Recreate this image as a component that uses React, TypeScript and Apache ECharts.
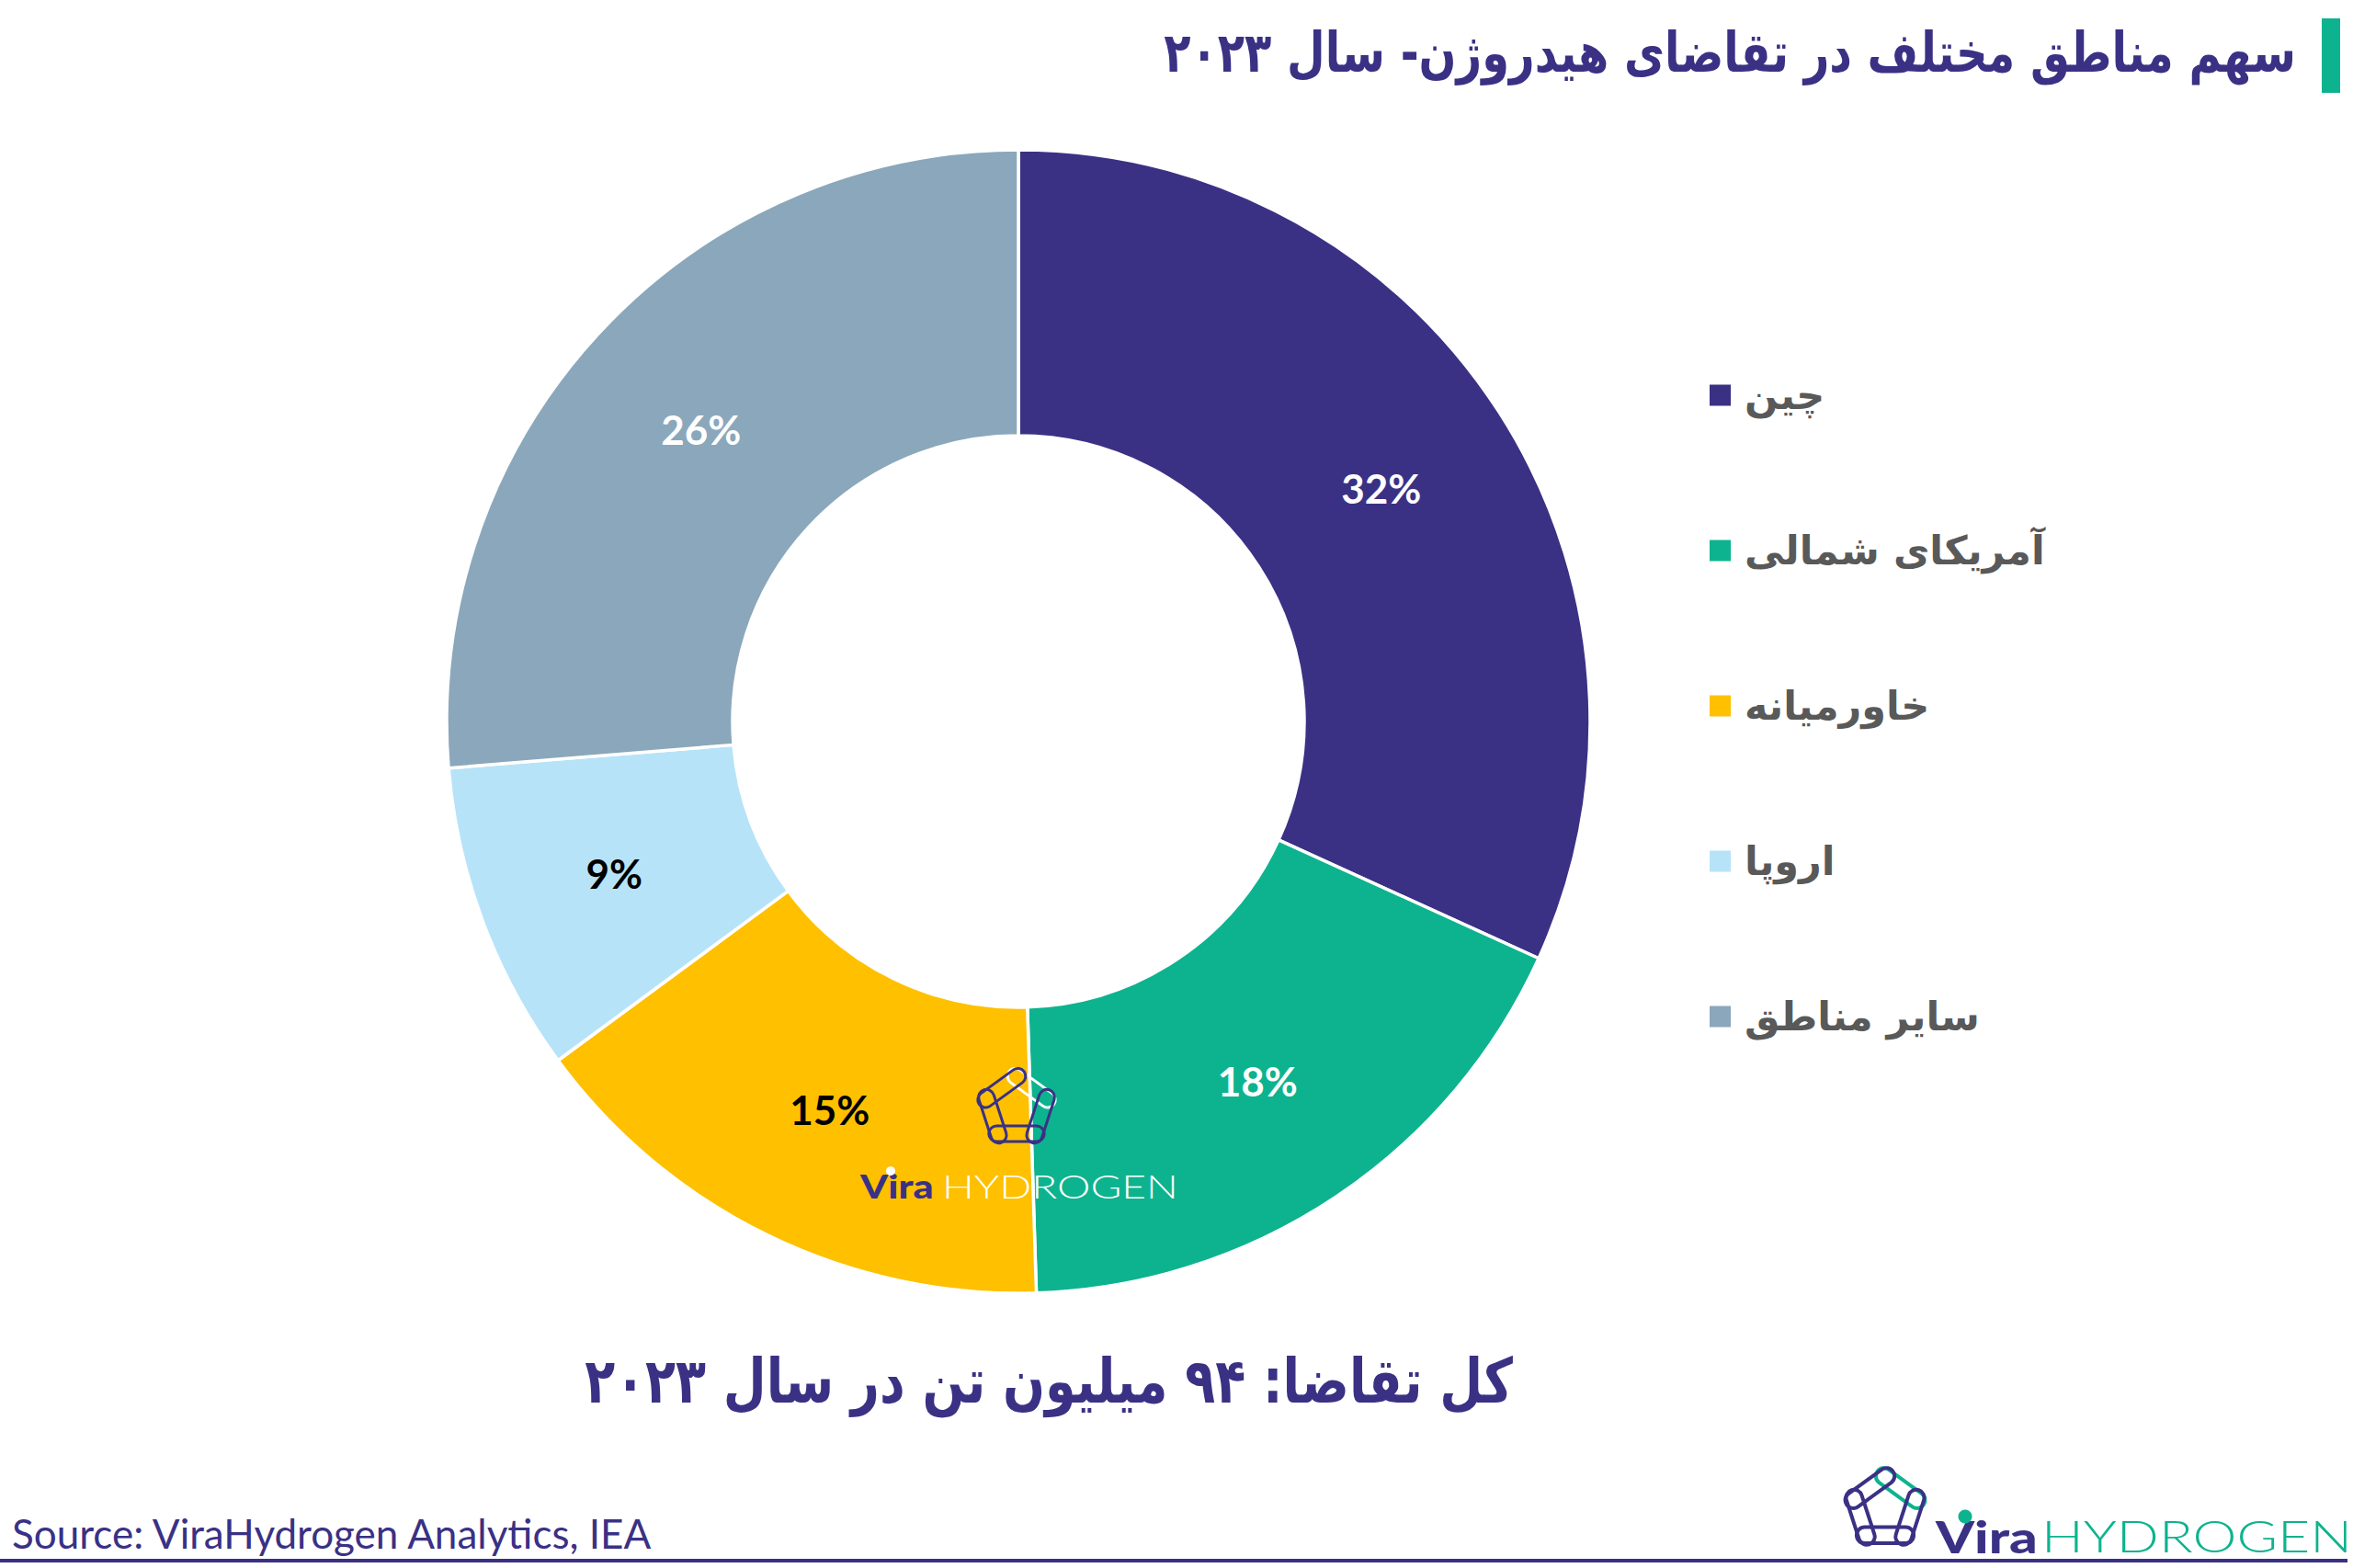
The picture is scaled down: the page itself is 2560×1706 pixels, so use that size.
import React, { useEffect, useRef } from "react";
import * as echarts from "echarts";

// ---- Data ----
const regions = ["چین", "آمریکای شمالی", "خاورمیانه", "اروپا", "سایر مناطق"];
const shares = [31.8, 17.7, 15.4, 8.8, 26.3];
const shareLabels = ["32%", "18%", "15%", "9%", "26%"];
const sliceColors = ["#3A3185", "#0DB38E", "#FFC000", "#B7E3F8", "#8BA7BB"];
const labelColors = ["#FFFFFF", "#FFFFFF", "#000000", "#000000", "#FFFFFF"];

const titleText = "سهم مناطق مختلف در تقاضای هیدروژن- سال ۲۰۲۳";
const totalText = "کل تقاضا: ۹۴ میلیون تن در سال ۲۰۲۳";
const sourceText = "Source: ViraHydrogen Analytics, IEA";
const brandA = "Vira";
const brandB = "HYDROGEN";

const PURPLE = "#3A3185";
const GREEN = "#0DB38E";

function chainLogo(cx: number, cy: number, R: number, linkColors: string[], lw: number) {
  const verts: number[][] = [];
  for (let i = 0; i < 5; i++) {
    const a = -Math.PI / 2 + (i * 2 * Math.PI) / 5;
    verts.push([cx + R * Math.cos(a), cy + R * Math.sin(a)]);
  }
  const children: any[] = [];
  for (let i = 0; i < 5; i++) {
    const p = verts[i];
    const q = verts[(i + 1) % 5];
    const mx = (p[0] + q[0]) / 2;
    const my = (p[1] + q[1]) / 2;
    const len = Math.hypot(q[0] - p[0], q[1] - p[1]);
    const ang = Math.atan2(q[1] - p[1], q[0] - p[0]);
    const L = len + R * 0.6;
    const H = R * 0.5;
    children.push({
      type: "rect",
      x: mx,
      y: my,
      z: 100,
      rotation: -ang,
      shape: { x: -L / 2, y: -H / 2, width: L, height: H, r: H / 2 },
      style: { fill: "none", stroke: linkColors[i], lineWidth: lw },
      silent: true,
    });
  }
  return children;
}

export default function App() {
  const ref = useRef<HTMLDivElement>(null);

  useEffect(() => {
    if (!ref.current) return;
    const chart = echarts.init(ref.current, undefined, { renderer: "svg" });

    const graphics: any[] = [
      // title + green bar
      {
        type: "rect",
        z: 100,
        shape: { x: 2526, y: 20, width: 20, height: 81 },
        style: { fill: GREEN },
      },
      {
        type: "text",
        z: 100,
        x: 2498,
        y: 58,
        scaleY: 1.25,
        style: {
          text: titleText,
          x: 0,
          y: 0,
          align: "right",
          verticalAlign: "middle",
          fontFamily: "DejaVu Sans",
          fontWeight: "bold",
          fontSize: 48,
          fill: PURPLE,
        },
      },
      // total demand text
      {
        type: "text",
        z: 100,
        x: 1141,
        y: 1502,
        scaleY: 1.25,
        style: {
          text: totalText,
          x: 0,
          y: 0,
          align: "center",
          verticalAlign: "middle",
          fontFamily: "DejaVu Sans",
          fontWeight: "bold",
          fontSize: 54,
          fill: PURPLE,
        },
      },
      // source
      {
        type: "text",
        z: 100,
        style: {
          text: sourceText,
          x: 13,
          y: 1668,
          align: "left",
          verticalAlign: "middle",
          fontFamily: "Lato",
          fontSize: 44,
          fill: PURPLE,
        },
      },
      // bottom rule
      {
        type: "line",
        z: 100,
        shape: { x1: 0, y1: 1698, x2: 2554, y2: 1698 },
        style: { stroke: PURPLE, lineWidth: 4 },
      },
      // bottom-right logo
      ...chainLogo(2051, 1642, 35, [GREEN, PURPLE, PURPLE, PURPLE, PURPLE], 4),
      {
        type: "text",
        z: 100,
        x: 2106,
        y: 1671,
        scaleX: 1.25,
        style: {
          text: brandA,
          x: 0,
          y: 0,
          align: "left",
          verticalAlign: "middle",
          fontFamily: "Lato",
          fontWeight: 900,
          fontSize: 48,
          fill: PURPLE,
        },
      },
      {
        type: "circle",
        z: 101,
        shape: { cx: 2138, cy: 1650, r: 7.5 },
        style: { fill: GREEN },
      },
      {
        type: "text",
        z: 100,
        x: 2221,
        y: 1671,
        scaleX: 1.29,
        style: {
          text: brandB,
          x: 0,
          y: 0,
          align: "left",
          verticalAlign: "middle",
          fontFamily: "Lato",
          fontWeight: 300,
          fontSize: 47,
          fill: GREEN,
        },
      },
      // watermark
      ...chainLogo(1106, 1206, 34, ["#FFFFFF", PURPLE, PURPLE, PURPLE, PURPLE], 3),
      {
        type: "text",
        z: 100,
        x: 936,
        y: 1290,
        scaleX: 1.2,
        style: {
          text: brandA,
          x: 0,
          y: 0,
          align: "left",
          verticalAlign: "middle",
          fontFamily: "Lato",
          fontWeight: 900,
          fontSize: 36,
          fill: PURPLE,
        },
      },
      {
        type: "circle",
        z: 101,
        shape: { cx: 969, cy: 1274, r: 5 },
        style: { fill: "#FFFFFF" },
      },
      {
        type: "text",
        z: 100,
        x: 1025,
        y: 1290,
        scaleX: 1.28,
        style: {
          text: brandB,
          x: 0,
          y: 0,
          align: "left",
          verticalAlign: "middle",
          fontFamily: "Lato",
          fontWeight: 300,
          fontSize: 36,
          fill: "#FFFFFF",
        },
      },
    ];

    chart.setOption({
      animation: false,
      backgroundColor: "#FFFFFF",
      legend: {
        orient: "vertical",
        left: 1853,
        top: 400,
        itemWidth: 25,
        itemHeight: 25,
        itemGap: 119,
        icon: "rect",
        selectedMode: false,
        data: regions,
        textStyle: {
          fontFamily: "DejaVu Sans",
          fontWeight: "bold",
          fontSize: 43,
          lineHeight: 50,
          color: "#595959",
          padding: [0, 0, 0, 9],
        },
      },
      series: [
        {
          type: "pie",
          center: [1108, 785],
          radius: [311, 622],
          startAngle: 90,
          clockwise: true,
          avoidLabelOverlap: false,
          silent: true,
          emphasis: { disabled: true },
          itemStyle: { borderColor: "#FFFFFF", borderWidth: 3.5 },
          labelLine: { show: false },
          label: {
            show: true,
            position: "inside",
            fontFamily: "Lato",
            fontWeight: "bold",
            fontSize: 44,
            formatter: (p: any) => shareLabels[p.dataIndex],
          },
          data: regions.map((name, i) => ({
            name,
            value: shares[i],
            itemStyle: { color: sliceColors[i] },
            label: { color: labelColors[i] },
          })),
        },
      ],
      graphic: graphics,
    });

    return () => chart.dispose();
  }, []);

  return (
    <div
      ref={ref}
      style={{ position: "absolute", left: 0, top: 0, width: 2560, height: 1706 }}
    />
  );
}
